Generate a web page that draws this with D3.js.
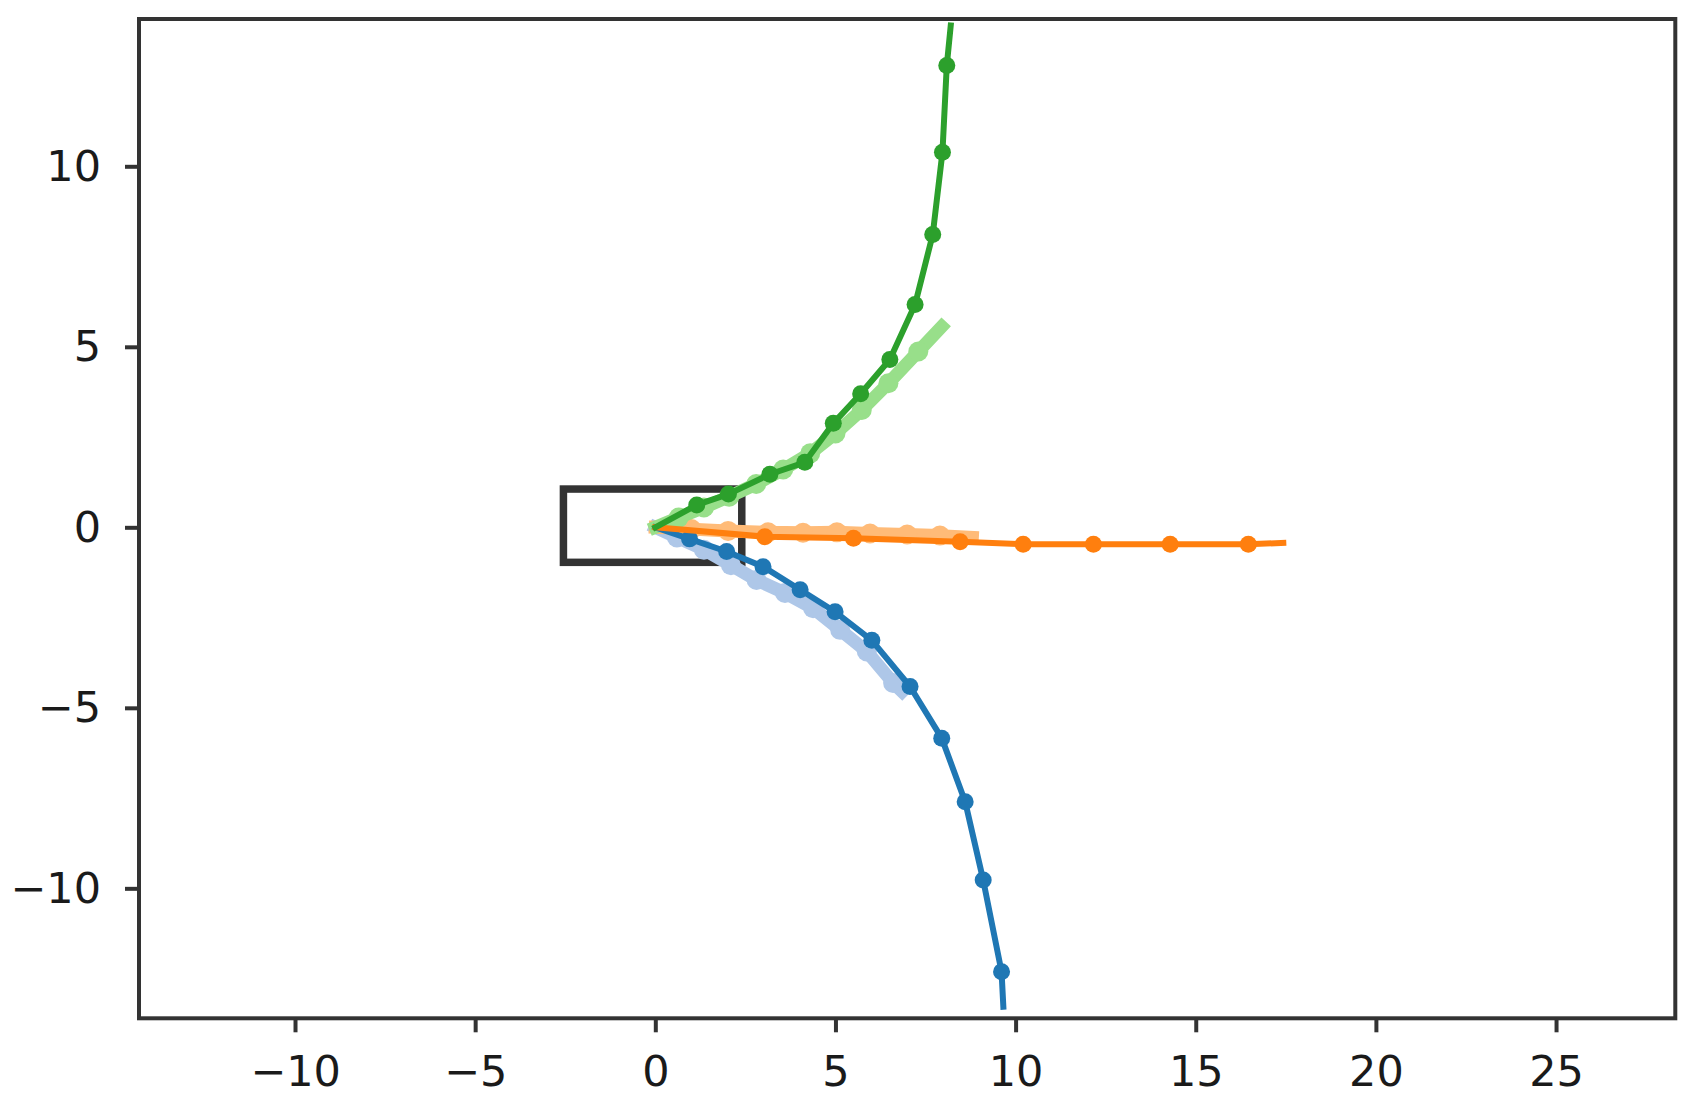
<!DOCTYPE html>
<html>
<head>
<meta charset="utf-8">
<script src="https://cdn.jsdelivr.net/npm/d3@7"></script>
<style>
  html, body { margin: 0; padding: 0; background: #fff; }
  svg { display: block; }
</style>
</head>
<body>
<script>
// ---- data (x, y) in chart units ----
const xTicks = [-10, -5, 0, 5, 10, 15, 20, 25];
const yTicks = [-10, -5, 0, 5, 10];
const xDomain = [-14.33, 28.31];
const yDomain = [-13.6, 14.08];

// box around origin: [xmin, ymin, xmax, ymax]
const boxCorners = [-2.55, -0.97, 2.4, 1.06];

// dark trajectories (first and last vertex carry no marker)
const blueDark = [[0,0],[0.95,-0.32],[1.98,-0.67],[2.99,-1.09],[4.02,-1.73],[4.99,-2.34],[6.01,-3.13],[7.07,-4.41],[7.95,-5.84],[8.6,-7.6],[9.1,-9.77],[9.61,-12.31],[9.66,-13.28]];
const orangeDark = [[0,0],[3.04,-0.26],[5.5,-0.3],[8.46,-0.4],[10.21,-0.47],[12.16,-0.47],[14.29,-0.47],[16.46,-0.47],[17.43,-0.43]];
const greenDark = [[0,0],[1.15,0.62],[2.03,0.92],[3.18,1.47],[4.15,1.8],[4.94,2.88],[5.7,3.7],[6.51,4.65],[7.21,6.17],[7.7,8.11],[7.97,10.39],[8.09,12.79],[8.2,13.9]];

// light trajectories
const blueLight = [[0,0],[0.6,-0.28],[1.35,-0.62],[2.1,-1.05],[2.81,-1.46],[3.6,-1.82],[4.38,-2.24],[5.13,-2.84],[5.87,-3.44],[6.6,-4.31],[6.85,-4.55]];
const orangeLight = [[0,0],[1.0,-0.05],[2.02,-0.1],[3.13,-0.14],[4.1,-0.15],[5.04,-0.14],[5.96,-0.17],[6.99,-0.2],[7.9,-0.23],[8.8,-0.28]];
const greenLight = [[0,0],[0.65,0.27],[1.35,0.55],[2.05,0.85],[2.8,1.2],[3.55,1.6],[4.3,2.05],[5.0,2.6],[5.73,3.25],[6.47,3.99],[7.3,4.87],[7.95,5.56]];

// ---- layout ----
const W = 1702, H = 1112;
const L = 139, R = 1675.3, T = 19, B = 1018.3;

const x = d3.scaleLinear().domain(xDomain).range([L, R]);
const y = d3.scaleLinear().domain(yDomain).range([B, T]);

const svg = d3.select("body").append("svg").attr("width", W).attr("height", H);

svg.append("defs").append("clipPath").attr("id", "plot")
  .append("rect").attr("x", L).attr("y", T).attr("width", R - L).attr("height", B - T);

const plot = svg.append("g").attr("clip-path", "url(#plot)");

// box
plot.append("rect")
  .attr("x", x(boxCorners[0])).attr("y", y(boxCorners[3]))
  .attr("width", x(boxCorners[2]) - x(boxCorners[0]))
  .attr("height", y(boxCorners[1]) - y(boxCorners[3]))
  .attr("fill", "none").attr("stroke", "#333").attr("stroke-width", 7.5);

const line = d3.line().x(d => x(d[0])).y(d => y(d[1]));

function drawTraj(data, color, lw, r) {
  plot.append("path").datum(data).attr("d", line)
    .attr("fill", "none").attr("stroke", color).attr("stroke-width", lw)
    .attr("stroke-linejoin", "round").attr("stroke-linecap", "square");
  plot.append("g").selectAll("circle").data(data.slice(1, -1)).join("circle")
    .attr("cx", d => x(d[0])).attr("cy", d => y(d[1])).attr("r", r)
    .attr("fill", color);
}

drawTraj(blueLight, "#aec7e8", 13, 10);
drawTraj(orangeLight, "#ffbb78", 13, 10);
drawTraj(greenLight, "#98df8a", 13, 10);
drawTraj(blueDark, "#1f77b4", 6, 8.5);
drawTraj(orangeDark, "#ff7f0e", 6, 8.5);
drawTraj(greenDark, "#2ca02c", 6, 8.5);

// axes
const font = "'DejaVu Sans', sans-serif";
const xAxis = svg.append("g").attr("transform", `translate(0,${B})`)
  .call(d3.axisBottom(x).tickValues(xTicks).tickSize(14).tickPadding(23).tickSizeOuter(0));
const yAxis = svg.append("g").attr("transform", `translate(${L},0)`)
  .call(d3.axisLeft(y).tickValues(yTicks).tickSize(14).tickPadding(24).tickSizeOuter(0));

[xAxis, yAxis].forEach(g => {
  g.select(".domain").remove();
  g.selectAll(".tick line").attr("stroke", "#333").attr("stroke-width", 4);
  g.selectAll(".tick text").attr("fill", "#1a1a1a").style("font-family", font).style("font-size", "43px");
});

// frame
svg.append("rect").attr("x", L).attr("y", T).attr("width", R - L).attr("height", B - T)
  .attr("fill", "none").attr("stroke", "#333").attr("stroke-width", 4);
</script>
</body>
</html>
